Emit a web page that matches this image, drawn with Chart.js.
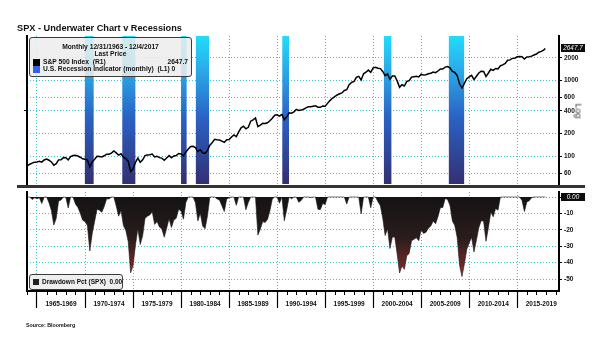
<!DOCTYPE html>
<html>
<head>
<meta charset="utf-8">
<script src="https://cdn.jsdelivr.net/npm/chart.js@4.4.1/dist/chart.umd.min.js"></script>
<style>
  html, body { margin: 0; padding: 0; background: #fff; }
  #page { position: relative; width: 600px; height: 343px; overflow: hidden; background: #fff;
          font-family: "Liberation Sans", Arial, sans-serif; color: #111; }
  .abs { position: absolute; white-space: nowrap; }
  canvas { position: absolute; left: 0; }
  #priceChart { top: 0; }
  #drawdownChart { top: 186px; }
  #title { left: 17px; top: 22px; font-size: 9.2px; font-weight: bold; line-height: 12px; }
  #separator { left: 17px; top: 185px; width: 568px; height: 3px; background: #333; }
  .legend { position: absolute; border: 1px solid #3c3c3c; border-radius: 3px;
            background: rgba(236, 236, 236, 0.86); box-sizing: border-box; }
  .lg { position: absolute; white-space: nowrap; font-size: 6.7px; font-weight: bold; line-height: 8px; color: #111; }
  .sw { position: absolute; width: 7px; height: 7px; }
  #logLabel { left: 571px; top: 106px; font-size: 9px; color: #333; transform: rotate(90deg); transform-origin: 50% 50%; line-height: 10px; }
  #source { left: 26px; top: 322px; font-size: 5.3px; font-weight: bold; line-height: 7px; }
</style>
</head>
<body>
<div id="page">
  <canvas id="priceChart" width="600" height="190"></canvas>
  <canvas id="drawdownChart" width="600" height="157"></canvas>
  <div id="separator" class="abs"></div>
  <div id="title" class="abs">SPX - Underwater Chart v Recessions</div>

  <div class="legend" style="left:29px; top:37px; width:163px; height:40px;">
    <div class="lg" style="left:0; width:161px; text-align:center; top:5px;">Monthly 12/31/1963 - 12/4/2017</div>
    <div class="lg" style="left:0; width:161px; text-align:center; top:12px;">Last Price</div>
    <div class="sw" style="left:3px; top:21px; background:#000;"></div>
    <div class="lg" style="left:13px; top:20px;">S&amp;P 500 Index&nbsp; (R1)</div>
    <div class="lg" id="lastPriceText" style="right:3px; top:20px;">2647.7</div>
    <div class="sw" style="left:3px; top:28px; background:#2f62f2;"></div>
    <div class="lg" style="left:13px; top:27px;">U.S. Recession Indicator (monthly)&nbsp; (L1) 0</div>
  </div>

  <div class="legend" style="left:29px; top:274px; width:94px; height:16px;">
    <div class="sw" style="left:3px; top:3.5px; width:6px; height:6px; background:#222;"></div>
    <div class="lg" style="left:12px; top:3px; font-size:6.5px;">Drawdown Pct (SPX)&nbsp; 0.00</div>
  </div>

  <div id="logLabel" class="abs">Log</div>
  <div id="source" class="abs">Source: Bloomberg</div>
</div>

<script>
// S&P 500 quarter-end closes, from 31 Dec 1963; the final entry is the 4 Dec 2017 close.
const FIRST_QUARTER_DATE = 1964.0;
const LAST_PRICE_DATE = 2017.92;
const spxClose = [
  75.02,
  78.98, 81.69, 84.18, 84.75,     86.16, 84.12, 89.96, 92.43,
  89.23, 84.74, 76.56, 80.33,     90.20, 90.64, 96.71, 96.47,
  90.20, 99.58, 102.67, 103.86,   101.51, 97.71, 93.12, 92.06,
  89.63, 72.72, 84.21, 92.15,     100.31, 99.70, 98.34, 102.09,
  107.20, 107.14, 110.55, 118.05, 111.52, 104.26, 108.43, 97.55,
  93.98, 86.00, 63.54, 68.56,     83.36, 95.19, 83.87, 90.19,
  102.77, 104.28, 105.24, 107.46, 98.42, 100.48, 96.53, 95.10,
  89.21, 95.53, 102.54, 96.11,    101.59, 102.91, 109.32, 107.94,
  102.09, 114.24, 125.46, 135.76, 136.00, 131.21, 116.18, 122.55,
  111.96, 109.61, 120.42, 140.64, 152.96, 168.11, 166.07, 164.93,
  159.18, 153.18, 166.10, 167.24, 180.66, 191.85, 182.08, 211.28,
  238.90, 250.84, 231.32, 242.17, 291.70, 304.00, 321.83, 247.08,
  258.89, 273.50, 271.91, 277.72, 294.87, 317.98, 349.15, 353.40,
  339.94, 358.02, 306.05, 330.22, 375.22, 371.16, 387.86, 417.09,
  403.69, 408.14, 417.80, 435.71, 451.67, 450.53, 458.93, 466.45,
  445.77, 444.27, 462.69, 459.27, 500.71, 544.75, 584.41, 615.93,
  645.50, 670.63, 687.31, 740.74, 757.12, 885.14, 947.28, 970.43,
  1101.75, 1133.84, 1017.01, 1229.23, 1286.37, 1372.71, 1282.71, 1469.25,
  1498.58, 1454.60, 1436.51, 1320.28, 1160.33, 1224.42, 1040.94, 1148.08,
  1147.39, 989.82, 815.28, 879.82,    848.18, 974.50, 995.97, 1111.92,
  1126.21, 1140.84, 1114.58, 1211.92, 1180.59, 1191.33, 1228.81, 1248.29,
  1294.83, 1270.20, 1335.85, 1418.30, 1420.86, 1503.35, 1526.75, 1468.36,
  1322.70, 1280.00, 1166.36, 903.25,  797.87, 919.32, 1057.08, 1115.10,
  1169.43, 1030.71, 1141.20, 1257.64, 1325.83, 1320.64, 1131.42, 1257.60,
  1408.47, 1362.16, 1440.67, 1426.19, 1569.19, 1606.28, 1681.55, 1848.36,
  1872.34, 1960.23, 1972.29, 2058.90, 2067.89, 2063.11, 1920.03, 2043.94,
  2059.74, 2098.86, 2168.27, 2238.83, 2362.72, 2423.41, 2519.36, 2647.70
];

// Drawdown from the running high, in percent, on the same dates.
const drawdownPct = [
  0,
  0, -1.5, -0.5, -1.0,        -0.5, -4.0, 0, 0,
  -3.5, -8.3, -17.1, -13.1,   -2.4, -1.9, 0, -0.2,
  -6.7, 0, 0, -4.2,           -6.3, -9.8, -14.1, -15.0,
  -17.3, -32.9, -22.3, -14.9, -7.4, -8.0, -9.3, -5.8,
  -1.1, -1.2, 0, 0,           -5.5, -11.7, -8.2, -17.4,
  -20.4, -27.2, -46.2, -41.9, -29.4, -19.4, -29.0, -23.6,
  -13.0, -11.7, -10.9, -9.0,  -16.7, -14.9, -18.3, -19.5,
  -24.5, -19.1, -13.2, -18.6, -14.0, -12.9, -7.5, -8.6,
  -13.5, -3.3, 0, 0,          0, -3.5, -14.6, -9.9,
  -17.7, -19.4, -11.5, 0,     0, 0, -1.2, -1.9,
  -5.3, -8.9, -1.2, -0.5,     0, 0, -5.1, 0,
  0, 0, -7.8, -3.4,           0, 0, 0, -23.2,
  -19.6, -15.0, -15.5, -13.7, -8.4, -1.2, 0, 0,
  -3.8, 0, -14.5, -7.8,       0, -1.1, 0, 0,
  -3.2, -2.2, 0, 0,           0, -0.3, 0, 0,
  -7.4, -7.7, -3.9, -4.6,     0, 0, 0, 0,
  0, 0, 0, 0,                 -4.3, 0, 0, 0,
  0, 0, -10.3, 0,             0, 0, -6.6, 0,
  0, -2.9, -5.3, -13.0,       -23.5, -19.3, -31.4, -24.4,
  -24.4, -34.8, -46.3, -42.0, -44.1, -35.8, -34.4, -26.7,
  -25.8, -24.8, -26.6, -20.1, -22.2, -21.5, -19.0, -17.7,
  -14.7, -16.3, -12.0, -6.5,  -6.4, -0.9, -1.5, -5.2,
  -14.6, -17.4, -24.7, -41.7, -48.5, -40.7, -31.8, -28.0,
  -24.5, -33.5, -26.3, -18.8, -14.4, -14.8, -27.0, -18.8,
  -9.1, -12.1, -7.0, -8.0,    0, 0, 0, 0,
  0, 0, 0, 0,                 0, -2.1, -8.9, -3.0,
  -2.3, -0.4, 0, 0,           0, 0, 0, 0
];

// US recessions (indicator = 1 between these dates, decimal years).
const recessionStart = [1969.96, 1973.88, 1980.00, 1981.54, 1990.54, 2001.12, 2007.88];
const recessionEnd   = [1970.90, 1975.24, 1980.58, 1982.92, 1991.24, 2001.90, 2009.50];

const priceTicks = [60, 100, 200, 400, 600, 1000, 2000];
const drawdownTicks = [0, -10, -20, -30, -40, -50];
const periodStarts = [1965, 1970, 1975, 1980, 1985, 1990, 1995, 2000, 2005, 2010, 2015];

// ---- shared axis settings ----
const X_MIN = 1963.96, X_MAX = 2019.35;
const GRID_CYAN = 'rgba(40, 196, 214, 0.95)';
const TICK_FONT = { family: 'Liberation Sans', size: 6.5, weight: 'bold' };
const PLOT_LEFT = 27, PLOT_RIGHT = 559;

Chart.defaults.font.family = 'Liberation Sans';
Chart.defaults.color = '#111';

const quarterDate = i => (i === spxClose.length - 1 ? LAST_PRICE_DATE : FIRST_QUARTER_DATE + i * 0.25);
const priceData = spxClose.map((v, i) => ({ x: quarterDate(i), y: v }));
const drawdownData = drawdownPct.map((v, i) => ({ x: quarterDate(i), y: v }));
const recessionData = [];
recessionStart.forEach((s, k) => {
  const e = recessionEnd[k];
  recessionData.push({ x: s, y: 0 }, { x: s, y: 1 }, { x: e, y: 1 }, { x: e, y: 0 });
});

function recessionFill(ctx) {
  const { chart } = ctx;
  const area = chart.chartArea;
  if (!area) return 'rgba(0,0,0,0)';
  const g = chart.ctx.createLinearGradient(0, area.top, 0, area.bottom);
  g.addColorStop(0, '#22dcfb');
  g.addColorStop(0.25, '#2aa6e6');
  g.addColorStop(0.55, '#2a62c4');
  g.addColorStop(1, '#332f72');
  return g;
}

function drawdownFill(ctx) {
  const { chart } = ctx;
  if (!chart.chartArea) return 'rgba(0,0,0,0)';
  const ys = chart.scales.y;
  const top = ys.getPixelForValue(0), bottom = ys.getPixelForValue(-55);
  const g = chart.ctx.createLinearGradient(0, top, 0, bottom);
  g.addColorStop(0, '#141313');
  g.addColorStop(0.45, '#2a1c1c');
  g.addColorStop(0.75, '#6c2828');
  g.addColorStop(1, '#b84646');
  return g;
}

// Black tag with the latest value, placed on the right axis.
const lastValueTag = {
  id: 'lastValueTag',
  afterDraw(chart, args, opts) {
    const ys = chart.scales.y;
    const y = ys.getPixelForValue(opts.value);
    const c = chart.ctx;
    const x = ys.left + 2, w = 24, h = 8;
    c.save();
    c.fillStyle = '#0c0c0c';
    c.fillRect(x, Math.round(y - h / 2), w, h);
    c.fillStyle = '#fff';
    c.font = 'italic 6.3px "Liberation Sans"';
    c.textAlign = 'center';
    c.textBaseline = 'middle';
    c.fillText(opts.text, x + w / 2, Math.round(y - h / 2) + h / 2 + 0.5);
    c.restore();
  }
};

// Small yearly tick marks under the time axis.
const yearTicks = {
  id: 'yearTicks',
  afterDraw(chart) {
    const xs = chart.scales.x;
    const c = chart.ctx;
    c.save();
    c.strokeStyle = '#000';
    c.lineWidth = 1;
    for (let yr = Math.ceil(xs.min); yr <= xs.max; yr++) {
      if (yr % 5 === 0) continue;
      const px = Math.round(xs.getPixelForValue(yr)) + 0.5;
      c.beginPath();
      c.moveTo(px, xs.top);
      c.lineTo(px, xs.top + 4);
      c.stroke();
    }
    c.restore();
  }
};

const baseOptions = {
  responsive: false,
  animation: false,
  devicePixelRatio: 1,
  events: []
};

// ---- upper panel: price (log, right) and recession indicator (left) ----
new Chart(document.getElementById('priceChart'), {
  type: 'line',
  data: {
    datasets: [
      { label: 'S&P 500 Index', data: priceData, yAxisID: 'y', borderColor: '#000', borderWidth: 1.5,
        pointRadius: 0, tension: 0, fill: false, order: 1 },
      { label: 'U.S. Recession Indicator (monthly)', data: recessionData, yAxisID: 'y1', borderWidth: 0,
        pointRadius: 0, tension: 0, fill: 'origin', backgroundColor: recessionFill, order: 2 }
    ]
  },
  options: {
    ...baseOptions,
    layout: { padding: { top: 36, left: 0, right: 0, bottom: 0 } },
    plugins: {
      legend: { display: false }, tooltip: { enabled: false },
      lastValueTag: { value: spxClose[spxClose.length - 1], text: spxClose[spxClose.length - 1].toFixed(1) }
    },
    scales: {
      x: {
        type: 'linear', min: X_MIN, max: X_MAX, position: 'bottom',
        afterBuildTicks: s => { s.ticks = periodStarts.map(v => ({ value: v })); },
        ticks: { display: false },
        grid: { color: GRID_CYAN, lineWidth: 1, drawTicks: false },
        border: { display: false, dash: [1, 2] },
        afterFit: s => { s.height = 4; }
      },
      y: {
        type: 'logarithmic', position: 'right', min: 43.25, max: 3864,
        afterBuildTicks: s => { s.ticks = priceTicks.map(v => ({ value: v })); },
        ticks: { font: TICK_FONT, color: '#111', padding: 2, callback: v => String(v) },
        grid: { color: GRID_CYAN, lineWidth: 1, tickLength: 3, tickColor: '#000', tickWidth: 1.2 },
        border: { color: '#000', width: 2, dash: [1, 2] },
        afterFit: s => { s.width = 600 - PLOT_RIGHT; }
      },
      y1: {
        type: 'linear', position: 'left', min: 0, max: 1,
        afterBuildTicks: s => { s.ticks = [{ value: 0.5 }]; },
        ticks: { display: false },
        grid: { drawOnChartArea: false, tickLength: 3, tickColor: '#000', tickWidth: 1.2 },
        border: { color: '#000', width: 2 },
        afterFit: s => { s.width = PLOT_LEFT; }
      }
    }
  },
  plugins: [lastValueTag]
});

// ---- lower panel: drawdown percent ----
const halfPeriodPx = (PLOT_RIGHT - PLOT_LEFT) / (X_MAX - X_MIN) * 2.5;

new Chart(document.getElementById('drawdownChart'), {
  type: 'line',
  data: {
    datasets: [
      { label: 'Drawdown Pct (SPX)', data: drawdownData, yAxisID: 'y', borderColor: '#141414', borderWidth: 0.6,
        pointRadius: 0, tension: 0, fill: 'origin', backgroundColor: drawdownFill }
    ]
  },
  options: {
    ...baseOptions,
    layout: { padding: { top: 6, left: 0, right: 0, bottom: 28 } },
    plugins: {
      legend: { display: false }, tooltip: { enabled: false },
      lastValueTag: { value: drawdownPct[drawdownPct.length - 1], text: drawdownPct[drawdownPct.length - 1].toFixed(2) }
    },
    scales: {
      x: {
        type: 'linear', min: X_MIN, max: X_MAX, position: 'bottom',
        afterBuildTicks: s => { s.ticks = periodStarts.map(v => ({ value: v })); },
        ticks: {
          font: TICK_FONT, color: '#111', padding: -8, labelOffset: halfPeriodPx,
          autoSkip: false, maxRotation: 0, callback: v => `${v}-${v + 4}`
        },
        grid: { color: GRID_CYAN, lineWidth: 1, tickLength: 17, tickColor: '#000', tickWidth: 1.2 },
        border: { color: '#000', width: 2, dash: [1, 2] },
        afterFit: s => { s.height = 24; }
      },
      y: {
        type: 'linear', position: 'right', min: -57.3, max: 3.05,
        afterBuildTicks: s => { s.ticks = drawdownTicks.map(v => ({ value: v })); },
        ticks: { font: TICK_FONT, color: '#111', padding: 2, callback: v => (v === 0 ? '' : String(v)) },
        grid: { color: GRID_CYAN, lineWidth: 1, tickLength: 3, tickColor: '#000', tickWidth: 1.2 },
        border: { color: '#000', width: 2, dash: [1, 2] },
        afterFit: s => { s.width = 600 - PLOT_RIGHT; }
      },
      y1: {
        type: 'linear', position: 'left', min: 0, max: 1,
        ticks: { display: false },
        grid: { display: false },
        border: { color: '#000', width: 2 },
        afterFit: s => { s.width = PLOT_LEFT; }
      }
    }
  },
  plugins: [lastValueTag, yearTicks]
});
</script>
</body>
</html>
